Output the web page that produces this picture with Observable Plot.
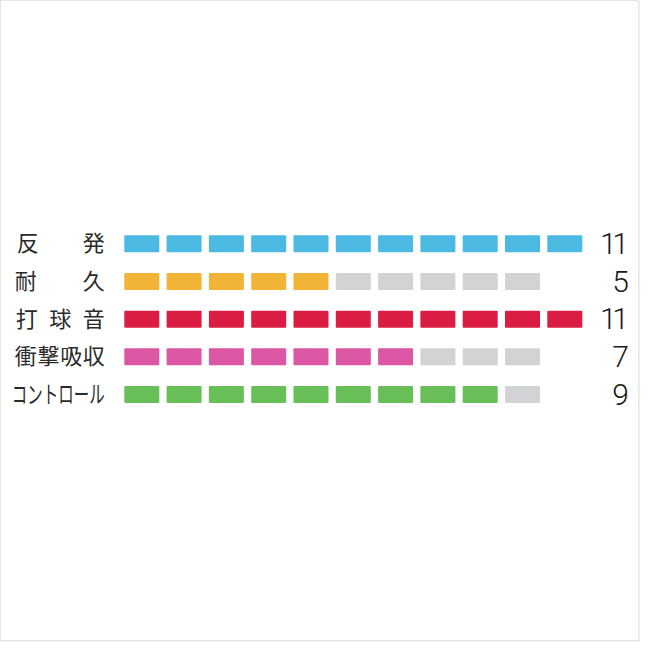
<!DOCTYPE html>
<html><head><meta charset="utf-8">
<script src="https://cdn.jsdelivr.net/npm/d3@7"></script>
<script src="https://cdn.jsdelivr.net/npm/@observablehq/plot@0.6"></script>
<style>
body{margin:0;background:#fff}
#wrap{position:relative;width:650px;height:650px}
#chart{position:absolute;left:0;top:0}
#frame{position:absolute;left:0;top:0;width:637px;height:639px;border:1px solid #e6e6e6;box-shadow:1px 1px 0 #f1f1f1;pointer-events:none}
</style>
</head><body>
<div id="wrap"><div id="chart"></div><div id="frame"></div></div>
<script>
// ---- data ----
const categories = ["反発", "耐久", "打球音", "衝撃吸収", "コントロール"];
const values = [11, 5, 11, 7, 9];
const segmentsShown = [11, 10, 11, 10, 10];
const colors = ["#4cb9e3", "#f1b436", "#db1c43", "#db56a3", "#68bf57"];
const emptyColor = "#d2d3d5";
// label widths (justified text) and sizes
const labelLengths = [88, 90, 89, 90, 93];
const labelSizes = [22, 22, 22, 22, 24];

const segmentIndex = d3.range(d3.max(segmentsShown));
const cells = categories.flatMap((c, i) =>
  d3.range(segmentsShown[i]).map(k => ({
    category: c, seg: k, fill: k < values[i] ? colors[i] : emptyColor
  })));
const rows = categories.map((c, i) => ({category: c, value: values[i], size: labelSizes[i]}));

const chart = Plot.plot({
  width: 650, height: 650,
  marginLeft: 124.3, marginRight: 67.7, marginTop: 235.3, marginBottom: 247,
  x: {type: "band", domain: segmentIndex, paddingInner: 0.1726, paddingOuter: 0, round: false, axis: null},
  y: {type: "band", domain: categories, paddingInner: 0.55, paddingOuter: 0, round: false, axis: null},
  color: {type: "identity"},
  marks: [
    Plot.cell(cells, {x: "seg", y: "category", fill: "fill", inset: 0, rx: 1}),
    Plot.text(rows, {y: "category", text: "category", frameAnchor: "left", textAnchor: "end", dx: -20,
      fontSize: d => d.size, fontFamily: "Noto Sans CJK JP", fill: "#2a2a2a"}),
    Plot.text(rows, {y: "category", text: d => String(d.value), frameAnchor: "right", textAnchor: "end", dx: 41.5,
      fontSize: 30, fontFamily: "Roboto", fontWeight: 300, fill: "#1a1a1a"})
  ]
});
document.getElementById("chart").appendChild(chart);

const textGroups = chart.querySelectorAll('g[aria-label="text"]');
d3.select(textGroups[0]).selectAll("text").each(function(d, i) {
  const natural = this.getComputedTextLength();
  const target = labelLengths[i];
  d3.select(this)
    .attr("textLength", target)
    .attr("lengthAdjust", natural > target ? "spacingAndGlyphs" : "spacing");
});
d3.select(textGroups[1]).style("letter-spacing", "-4.5px");
</script>
</body></html>
